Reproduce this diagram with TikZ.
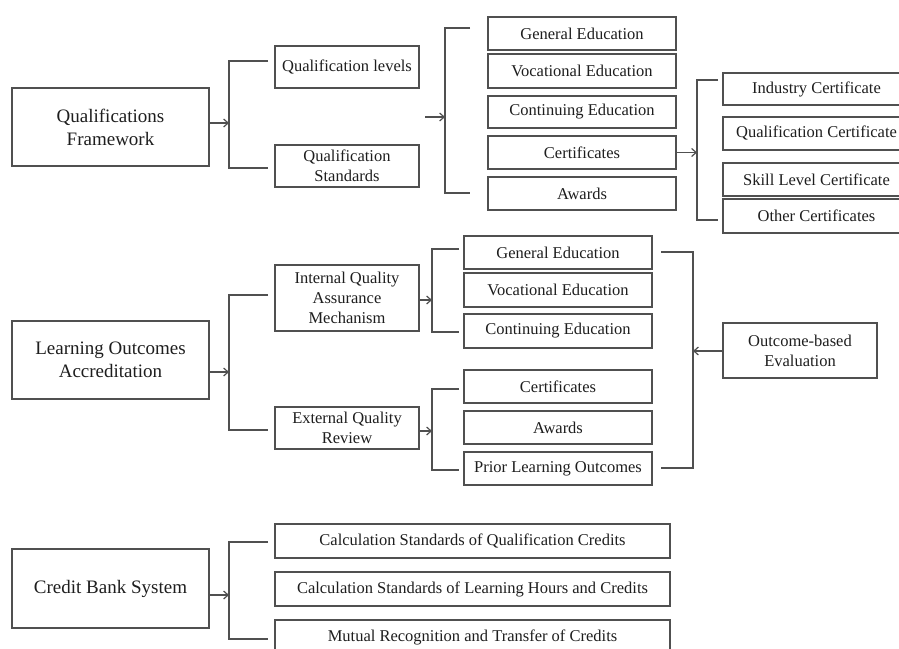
\documentclass[tikz,border=0pt]{standalone}
\usepackage{fontspec}
\setmainfont{Liberation Serif}
\usetikzlibrary{arrows.meta}
\definecolor{ln}{HTML}{505050}
\definecolor{tx}{HTML}{1E1E1E}
\tikzset{
  box/.style={draw=ln, line width=1.2pt, rectangle, inner sep=0pt, align=center, text=tx,
    font=\fontsize{16.5}{20}\selectfont},
  bigbox/.style={box, font=\fontsize{19}{23}\selectfont},
  conn/.style={draw=ln, line width=1.2pt},
  arr/.style={conn, -{Straight Barb[length=4.5pt,width=8pt]}},
}
\begin{document}
\begin{tikzpicture}[x=1pt,y=-1pt]
\useasboundingbox (0,0) rectangle (899,648);
\clip (0,0) rectangle (899,648);
\fill[white] (0,0) rectangle (899,648);
% ---------- Section 1 ----------
\node[bigbox, minimum width=197pt, minimum height=78pt] (qf) at (110.5,127) {Qualifications\\Framework};
\node[box, minimum width=144pt, minimum height=42pt] (ql) at (347,67) {Qualification levels};
\node[box, minimum width=144pt, minimum height=42pt] (qs) at (347,166) {Qualification\\Standards};
\node[box, minimum width=188pt, minimum height=33pt] (ge1) at (582,33.5) {General Education};
\node[box, minimum width=188pt, minimum height=34pt] (ve1) at (582,71) {Vocational Education};
\node[box, minimum width=188pt, minimum height=32pt] (ce1) at (582,112) {Continuing Education};
\node[box, minimum width=188pt, minimum height=33pt] (ct1) at (582,152.5) {Certificates};
\node[box, minimum width=188pt, minimum height=33pt] (aw1) at (582,193.5) {Awards};
\node[box, minimum width=187pt, minimum height=32pt] (ic) at (816.5,89) {Industry Certificate};
\node[box, minimum width=187pt, minimum height=33pt] (qc) at (816.5,133.5) {Qualification Certificate};
\node[box, minimum width=187pt, minimum height=33pt] (sl) at (816.5,179.5) {Skill Level Certificate};
\node[box, minimum width=187pt, minimum height=34pt] (oc) at (816.5,216) {Other Certificates};

\coordinate (b1) at (229,123);
\draw[arr] (qf.east |- b1) -- (b1);
\draw[conn] (268,61) -- (229,61) -- (229,168) -- (268,168);
\coordinate (a2s) at (425,117);
\coordinate (b2) at (445,117);
\draw[arr] (a2s) -- (b2);
\draw[conn] (470,28) -- (445,28) -- (445,193) -- (470,193);
\coordinate (b3) at (697,152.5);
\draw[arr] (ct1.east) -- (b3);
\draw[conn] (718,80) -- (697,80) -- (697,220) -- (718,220);

% ---------- Section 2 ----------
\node[bigbox, minimum width=197pt, minimum height=78pt] (loa) at (110.5,360) {Learning Outcomes\\Accreditation};
\node[box, minimum width=144pt, minimum height=66pt] (iq) at (347,298) {Internal Quality\\Assurance\\Mechanism};
\node[box, minimum width=144pt, minimum height=42pt] (eq) at (347,428) {External Quality\\Review};
\node[box, minimum width=188pt, minimum height=33pt] (ge2) at (558,252.5) {General Education};
\node[box, minimum width=188pt, minimum height=34pt] (ve2) at (558,290) {Vocational Education};
\node[box, minimum width=188pt, minimum height=34pt] (ce2) at (558,331) {Continuing Education};
\node[box, minimum width=188pt, minimum height=33pt] (ct2) at (558,386.5) {Certificates};
\node[box, minimum width=188pt, minimum height=33pt] (aw2) at (558,427.5) {Awards};
\node[box, minimum width=188pt, minimum height=33pt] (pl) at (558,468.5) {Prior Learning Outcomes};
\node[box, minimum width=154pt, minimum height=55pt] (obe) at (800,350.5) {Outcome-based\\Evaluation};

\coordinate (b4) at (229,372);
\draw[arr] (loa.east |- b4) -- (b4);
\draw[conn] (268,295) -- (229,295) -- (229,430) -- (268,430);
\coordinate (b5) at (432,300);
\draw[arr] (iq.east |- b5) -- (b5);
\draw[conn] (459,249) -- (432,249) -- (432,332) -- (459,332);
\coordinate (b6) at (432,431);
\draw[arr] (eq.east |- b6) -- (b6);
\draw[conn] (459,389) -- (432,389) -- (432,470) -- (459,470);
\draw[conn] (661,252) -- (693,252) -- (693,468) -- (661,468);
\coordinate (b7) at (693,351);
\draw[arr] (obe.west |- b7) -- (b7);

% ---------- Section 3 ----------
\node[bigbox, minimum width=197pt, minimum height=79pt] (cbs) at (110.5,588.5) {Credit Bank System};
\node[box, minimum width=395pt, minimum height=34pt] (cs1) at (472.5,541) {Calculation Standards of Qualification Credits};
\node[box, minimum width=395pt, minimum height=34pt] (cs2) at (472.5,589) {Calculation Standards of Learning Hours and Credits};
\node[box, minimum width=395pt, minimum height=34pt] (mr) at (472.5,637) {Mutual Recognition and Transfer of Credits};

\coordinate (b8) at (229,595);
\draw[arr] (cbs.east |- b8) -- (b8);
\draw[conn] (268,542) -- (229,542) -- (229,639) -- (268,639);
\end{tikzpicture}
\end{document}
